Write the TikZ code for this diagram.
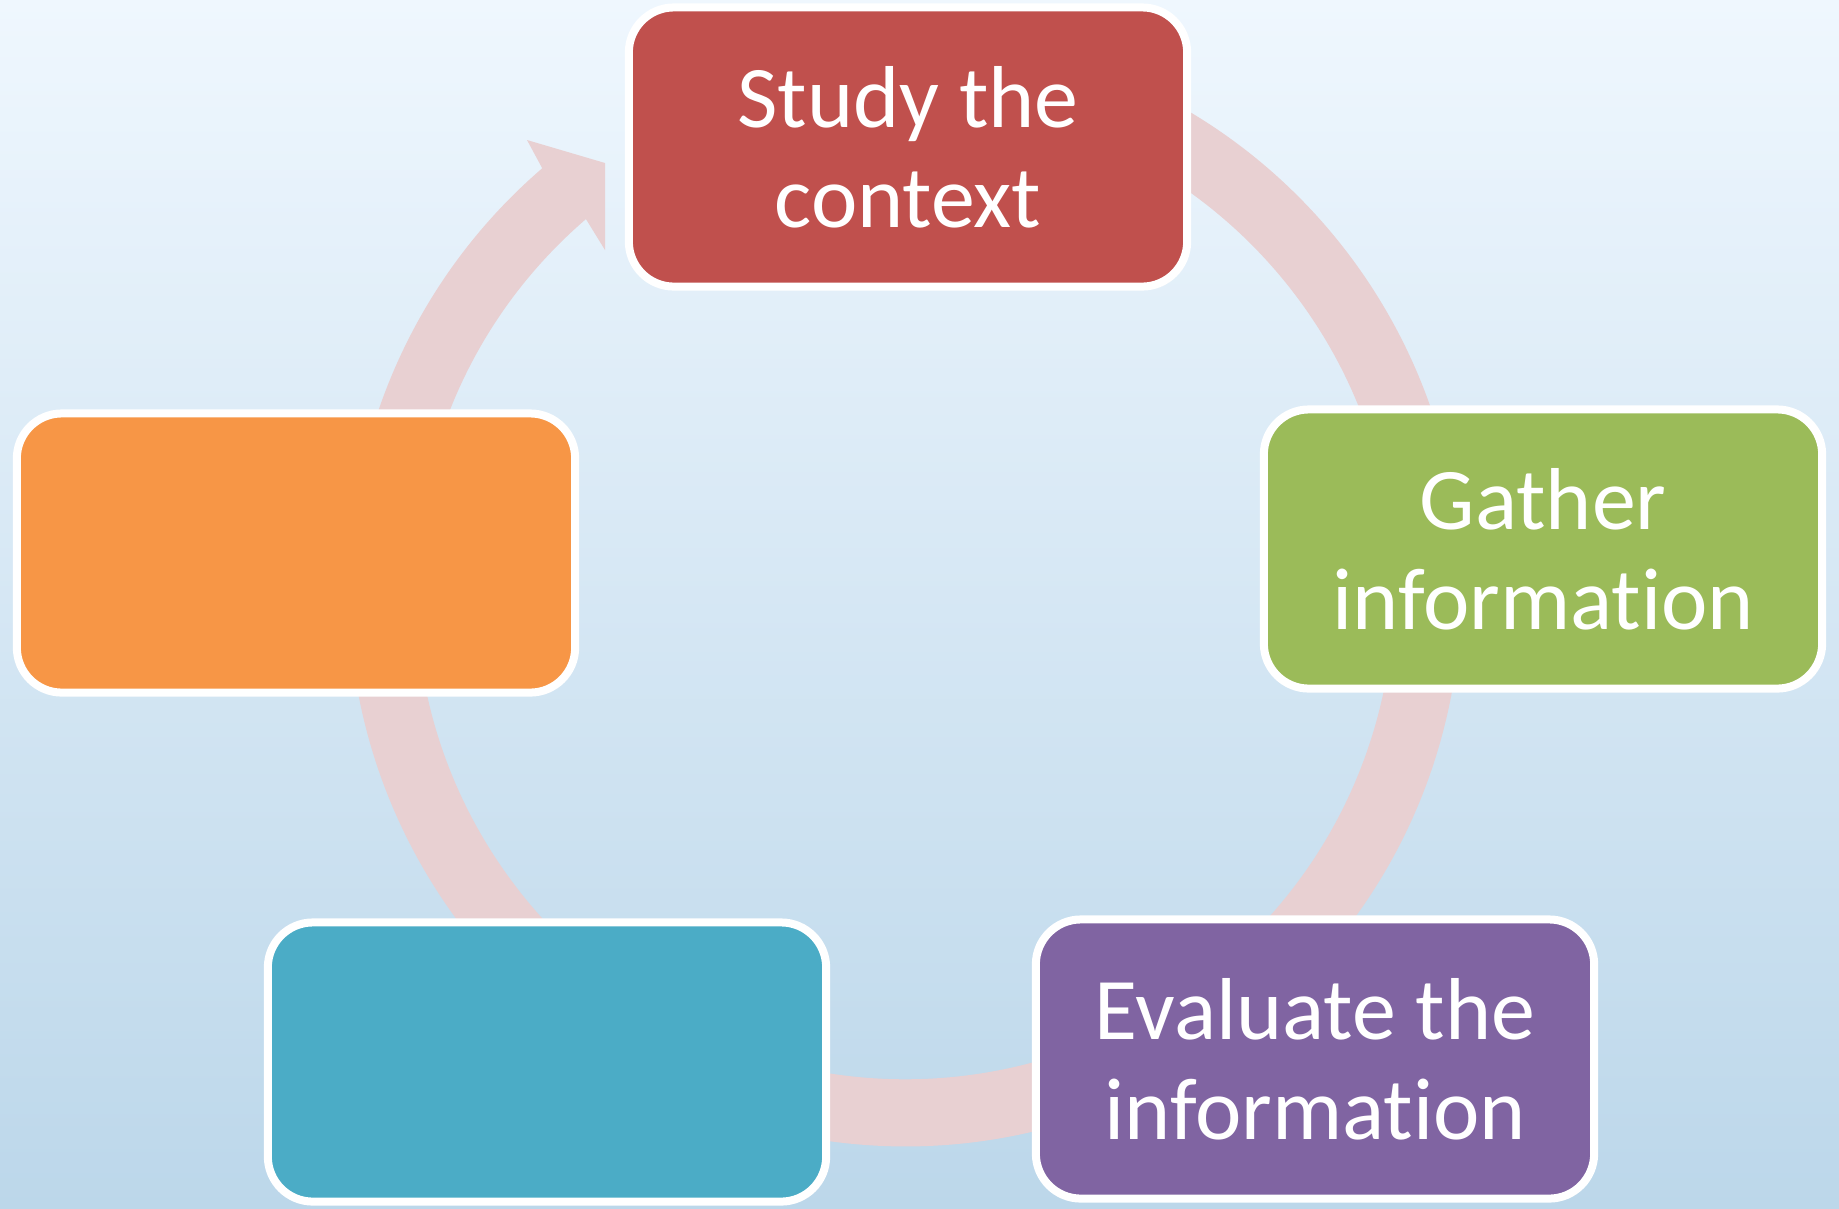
\documentclass[tikz,border=0pt]{standalone}
\usepackage{fontspec}
\setmainfont[Ligatures=NoCommon]{Carlito}
\usepackage{tikz}
\usetikzlibrary{positioning,shadows,calc}
\definecolor{bgtop}{HTML}{EFF7FE}
\definecolor{bgbot}{HTML}{BCD7EA}
\definecolor{cyclepink}{HTML}{E8D0D2}
\definecolor{boxred}{HTML}{C0504D}
\definecolor{boxgreen}{HTML}{9BBB59}
\definecolor{boxpurple}{HTML}{8064A2}
\definecolor{boxteal}{HTML}{4BACC6}
\definecolor{boxorange}{HTML}{F79646}
\tikzset{%
	stepbox/.style={%
		rectangle,
		rounded corners=0.45cm,
		draw=white,
		line width=0.08cm,
		minimum width=5.58cm,
		minimum height=2.79cm,
		text=white,
		align=center,
		font=\fontsize{25}{28.5}\selectfont,
		drop shadow={shadow xshift=0.02cm, shadow yshift=-0.03cm, opacity=0.3}
	}
}
\begin{document}
\begin{tikzpicture}[x=0.01cm, y=0.01cm, band/.style={fill=cyclepink}]
	\useasboundingbox (0,0) rectangle (1839,-1208);
	\fill[top color=bgtop, bottom color=bgbot] (0,0) rectangle (1839,-1208);
	\coordinate (c) at (905,-590);
	\coordinate (tipout) at (527,-140);
	\coordinate (tiptop) at (605,-163);
	\coordinate (tipbot) at (605,-250);
	\fill[band] ($(c)+(80:5.56cm)$) arc[start angle=80, end angle=-229.3, radius=5.56cm]
		-- (tipout) -- (tiptop) -- (tipbot)
		-- ($(c)+(130.7:4.89cm)$) arc[start angle=-229.3, end angle=80, radius=4.89cm] -- cycle;
	\node [stepbox, fill=boxred] (study) at (908,-147) {Study the\\context};
	\node [stepbox, fill=boxgreen] (gather) at (1543,-549) {Gather\\information};
	\node [stepbox, fill=boxpurple] (evaluate) at (1315,-1059) {Evaluate the\\information};
	\node [stepbox, fill=boxteal] (stepfour) at (547,-1062) {};
	\node [stepbox, fill=boxorange] (stepfive) at (296,-553) {};
\end{tikzpicture}
\end{document}
